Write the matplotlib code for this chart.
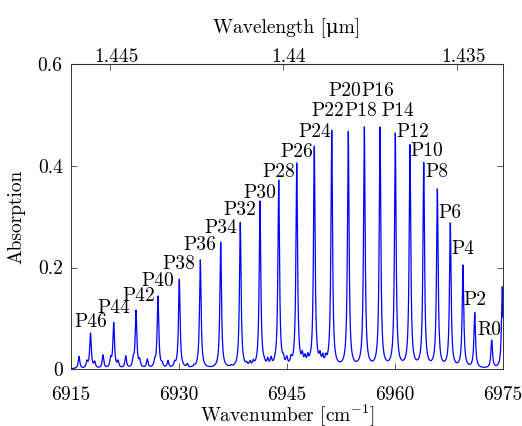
import numpy as np
import matplotlib
matplotlib.use('Agg')
import matplotlib.pyplot as plt
from matplotlib.transforms import ScaledTranslation

plt.rcParams['font.family'] = ['cmr10', 'DejaVu Serif']
plt.rcParams['mathtext.fontset'] = 'cm'
plt.rcParams['axes.unicode_minus'] = False
plt.rcParams['font.size'] = 14

# main band lines (wavenumber cm^-1, peak absorption)
line_names = ['P46', 'P44', 'P42', 'P40', 'P38', 'P36', 'P34', 'P32', 'P30', 'P28',
              'P26', 'P24', 'P22', 'P20', 'P18', 'P16', 'P14', 'P12', 'P10', 'P8',
              'P6', 'P4', 'P2', 'R0', 'R2']
line_pos = [6917.71, 6920.93, 6924.03, 6927.08, 6930.04, 6932.96, 6935.79, 6938.51,
            6941.25, 6943.85, 6946.35, 6948.79, 6951.21, 6953.51, 6955.74, 6957.92,
            6960.04, 6962.08, 6963.99, 6965.88, 6967.68, 6969.44, 6971.07, 6973.43,
            6974.90]
line_peak = [0.071, 0.092, 0.116, 0.144, 0.177, 0.215, 0.250, 0.289, 0.331, 0.372,
             0.403, 0.439, 0.469, 0.468, 0.477, 0.477, 0.465, 0.442, 0.407, 0.355,
             0.288, 0.205, 0.111, 0.057, 0.162]

# weak lines between the main ones
weak_pos = [6916.11, 6917.22, 6918.29, 6919.44, 6920.51, 6921.53, 6922.60, 6923.65,
            6924.54, 6925.60, 6926.63, 6927.64, 6928.47, 6929.40, 6931.15, 6932.08,
            6937.22, 6937.78, 6939.40, 6939.86, 6940.32, 6941.81, 6942.32, 6942.78,
            6943.33, 6944.49, 6944.96, 6945.56, 6946.01, 6947.13, 6947.50, 6947.88,
            6948.19, 6949.58, 6949.96, 6950.38, 6950.80]
weak_peak = [0.025, 0.018, 0.016, 0.028, 0.026, 0.018, 0.026, 0.028,
             0.022, 0.020, 0.023, 0.016, 0.017, 0.017, 0.011, 0.009,
             0.009, 0.011, 0.015, 0.017, 0.019, 0.026, 0.023, 0.025,
             0.029, 0.031, 0.026, 0.027, 0.034, 0.036, 0.030, 0.032,
             0.030, 0.036, 0.031, 0.030, 0.031]

# label offsets from each peak top, px (placed by hand in the original)
label_gap = {'P46': 6, 'P44': 9, 'P42': 9, 'P40': 10, 'P38': 10, 'P36': 10, 'P34': 8.7,
             'P32': 7, 'P30': 3, 'P28': 3, 'P26': 7.5, 'P24': 9, 'P22': 14.7, 'P20': 35,
             'P18': 10.7, 'P16': 31, 'P14': 16.7, 'P12': 8, 'P10': 6, 'P8': 11.5,
             'P6': 4.4, 'P4': 11.4, 'P2': 7.7, 'R0': 5}
label_shift = {'P42': 3, 'P22': -3.5, 'P20': -4, 'P18': -3.3, 'P16': -2.5,
               'P14': 2.2, 'P12': 2.8, 'P10': 3, 'R0': -2.5}

hwhm = 0.13

def lorentz(x, x0):
    return hwhm**2 / ((x - x0)**2 + hwhm**2)

centres = np.array(line_pos + weak_pos)
heights = np.array(line_peak + weak_peak)

# scale lines so the summed profile reaches the read peak values
M = lorentz(centres[:, None], centres[None, :])
amp = np.clip(np.linalg.solve(M, heights), 0, None)

nu = np.linspace(6915, 6975, 12001)
absorb = (amp[None, :] * lorentz(nu[:, None], centres[None, :])).sum(axis=1)

fig = plt.figure(figsize=(5.22, 4.26), dpi=100)
ax = fig.add_axes([71/522, 57/426, 432/522, 304.5/426])
ax.plot(nu, absorb, color='#0000ff', lw=0.9)

ax.set_xlim(6915, 6975)
ax.set_ylim(0, 0.6)
ax.set_xticks([6915, 6930, 6945, 6960, 6975])
ax.set_xticklabels(['6915', '6930', '6945', '6960', '6975'])
ax.set_yticks([0, 0.2, 0.4, 0.6])
ax.set_yticklabels(['0', '0.2', '0.4', '0.6'])
ax.tick_params(direction='in', length=4, width=0.6, color='#444444')
ax.tick_params(axis='x', pad=12, top=False)
ax.tick_params(axis='y', pad=6, right=True)
for s in ax.spines.values():
    s.set_linewidth(0.7)
    s.set_color('#333333')

ax.set_xlabel(r'Wavenumber $[\mathrm{cm}^{-1}]$', labelpad=-0.5)
ax.set_ylabel('Absorption', labelpad=9)

# wavelength axis on top
top = ax.secondary_xaxis('top', functions=(lambda x: 1e4 / x, lambda x: 1e4 / x))
top.set_xticks([1.445, 1.44, 1.435])
top.set_xticklabels(['1.445', '1.44', '1.435'])
top.tick_params(direction='in', length=4, width=0.6, color='#444444', pad=-1)
top.set_xlabel('Wavelength [\u03bcm]', labelpad=11)
# labels sit a little right of their ticks in the original
for lbl in top.get_xticklabels():
    lbl.set_transform(lbl.get_transform() + ScaledTranslation(0.06, 0, fig.dpi_scale_trans))

for name, pos, pk in zip(line_names, line_pos, line_peak):
    if name not in label_gap:
        continue
    dx = label_shift.get(name, 0) * 0.72
    ax.annotate(name, (pos, pk), xytext=(dx, label_gap[name] * 0.72),
                textcoords='offset points', ha='center', va='baseline')

fig.savefig('out.png', dpi=100)
